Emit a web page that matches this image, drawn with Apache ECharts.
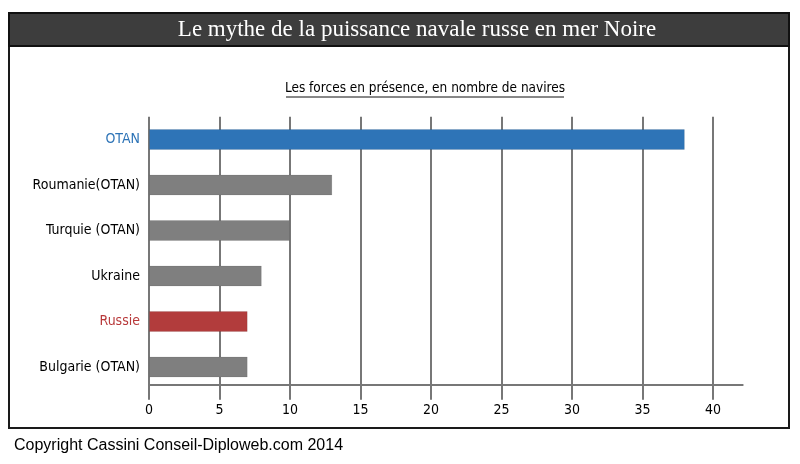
<!DOCTYPE html>
<html>
<head>
<meta charset="utf-8">
<script src="https://cdn.jsdelivr.net/npm/echarts@6/dist/echarts.min.js"></script>
<style>
html,body{margin:0;padding:0;background:#fff;}
#c{width:800px;height:464px;}
</style>
</head>
<body>
<div id="c"></div>
<script>
const titleText = 'Le mythe de la puissance navale russe en mer Noire';
const subtitleText = 'Les forces en présence, en nombre de navires';
const copyrightText = 'Copyright Cassini Conseil-Diploweb.com 2014';
const categories = ['OTAN', 'Roumanie(OTAN)', 'Turquie (OTAN)', 'Ukraine', 'Russie', 'Bulgarie (OTAN)'];
const shipCounts = [38, 13, 10, 8, 7, 7];
const tickValues = [0, 5, 10, 15, 20, 25, 30, 35, 40];
const axisMax = 42.1;

const highlight = { 'OTAN': '#2e74b7', 'Russie': '#b23c3c' };
const labelHighlight = { 'OTAN': '#2e74b7', 'Russie': '#b8393a' };
const grey = '#7f7f7f';
const condensed = "'Liberation Sans Narrow', 'DejaVu Sans Condensed', 'Roboto Condensed', sans-serif";

const chart = echarts.init(document.getElementById('c'));
chart.setOption({
  animation: false,
  backgroundColor: '#fff',
  graphic: [
    { type: 'rect', z: -10, shape: { x: 9, y: 13, width: 780, height: 415 },
      style: { fill: '#fff', stroke: '#1a1a1a', lineWidth: 2 } },
    { type: 'rect', z: 10, shape: { x: 9, y: 13, width: 780, height: 33 },
      style: { fill: '#3d3d3d', stroke: '#111', lineWidth: 2 } },
    { type: 'text', z: 11, x: 417, y: 30,
      style: { text: titleText, fill: '#fff', font: "23px 'Liberation Serif', 'DejaVu Serif', serif",
        align: 'center', verticalAlign: 'middle' } },
    { type: 'text', z: 11, x: 425, y: 88,
      style: { text: subtitleText, fill: '#000', font: "13.5px " + condensed,
        align: 'center', verticalAlign: 'middle' } },
    { type: 'line', z: 11, shape: { x1: 286, y1: 97, x2: 564, y2: 97 },
      style: { stroke: '#111', lineWidth: 1 } },
    { type: 'text', z: 11, x: 14, y: 446,
      style: { text: copyrightText, fill: '#000', font: "16px 'Liberation Sans', Arial, sans-serif",
        align: 'left', verticalAlign: 'middle' } }
  ],
  grid: { left: 149, right: 57.3, top: 116.75, height: 273, containLabel: false },
  xAxis: {
    type: 'value', min: 0, max: axisMax, interval: 5, position: 'bottom', offset: -5,
    axisLine: { show: true, lineStyle: { color: '#777', width: 2 } },
    axisTick: { show: true, length: 15, customValues: tickValues, lineStyle: { color: '#777', width: 2 } },
    axisLabel: { customValues: tickValues, margin: 19, color: '#000', fontSize: 14, fontFamily: condensed },
    splitLine: { show: true, lineStyle: { color: '#777', width: 2 } }
  },
  yAxis: {
    type: 'category', data: categories, inverse: true,
    axisLine: { show: false }, axisTick: { show: false },
    axisLabel: {
      margin: 9, fontSize: 14, fontFamily: condensed,
      color: (v) => labelHighlight[v] || '#000'
    },
    splitLine: { show: false }
  },
  series: [{
    type: 'bar', data: shipCounts, barWidth: 21, z: 3,
    itemStyle: {
      color: (p) => highlight[p.name] || grey,
      borderColor: 'rgba(0,0,0,0.08)', borderWidth: 1
    }
  }]
});
</script>
</body>
</html>
